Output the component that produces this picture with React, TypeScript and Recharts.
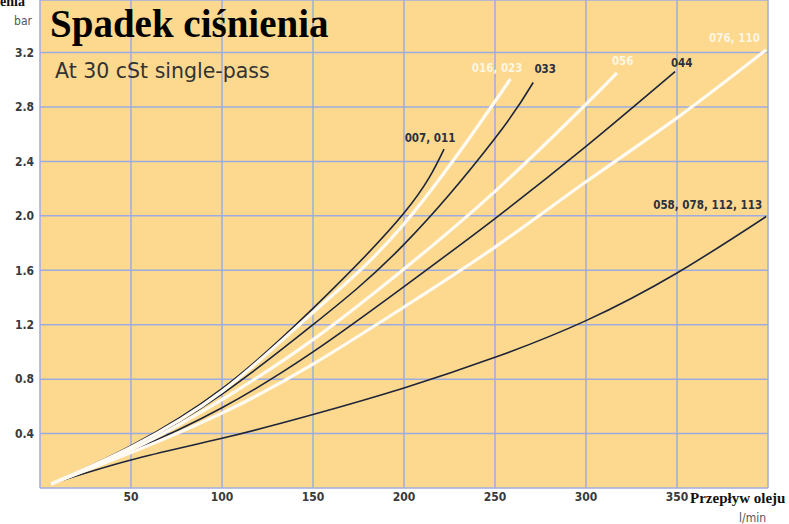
import React from 'react';
import { LineChart, Line, XAxis, YAxis, CartesianGrid } from 'recharts';

// ---- Data (flow l/min, pressure drop bar) ----
const flowTicks = [50, 100, 150, 200, 250, 300, 350];
const pressureTicks = [0.4, 0.8, 1.2, 1.6, 2.0, 2.4, 2.8, 3.2];

const q007 = [6, 50, 100, 150, 200, 222];
const p007 = [0.03, 0.31, 0.73, 1.32, 2.02, 2.49];

const q016 = [6, 50, 100, 150, 200, 250, 257];
const p016 = [0.03, 0.3, 0.71, 1.29, 1.94, 2.84, 2.98];

const q033 = [6, 50, 100, 150, 200, 250, 271];
const p033 = [0.03, 0.29, 0.69, 1.2, 1.79, 2.57, 2.98];

const q056 = [6, 50, 100, 150, 200, 250, 300, 317];
const p056 = [0.03, 0.28, 0.65, 1.09, 1.61, 2.18, 2.82, 3.05];

const q044 = [6, 50, 100, 150, 200, 250, 300, 349];
const p044 = [0.03, 0.27, 0.59, 1.0, 1.48, 1.98, 2.51, 3.06];

const q076 = [6, 50, 100, 150, 200, 250, 300, 350, 399];
const p076 = [0.03, 0.26, 0.55, 0.91, 1.33, 1.77, 2.25, 2.72, 3.22];

const q058 = [6, 50, 100, 150, 200, 250, 300, 350, 399];
const p058 = [0.03, 0.206, 0.365, 0.54, 0.735, 0.96, 1.23, 1.58, 1.995];

const seriesNames = ['058, 078, 112, 113', '044', '033', '007, 011', '076, 110', '056', '016, 023'];

const toData = (q: number[], p: number[]) => q.map((v, i) => ({ q: v, p: p[i] }));

// ---- Styles ----
const DARK = '#1e2538';
const WHITE = '#fffbf2';
const BG = '#fcd98f';
const GRID = '#9eabe0';
const TXT = '#3a3a3a';
const CONDENSED = '"DejaVu Sans Condensed", "DejaVu Sans", sans-serif';

const series = [
  { name: seriesNames[0], data: toData(q058, p058), color: DARK, w: 1.6, dx: -58.5, dy: -11.3, lc: '#2b3040' },
  { name: seriesNames[1], data: toData(q044, p044), color: DARK, w: 1.6, dx: 6.5, dy: -8.7, lc: '#2b3040' },
  { name: seriesNames[2], data: toData(q033, p033), color: DARK, w: 1.6, dx: 12, dy: -13.4, lc: '#2b3040' },
  { name: seriesNames[3], data: toData(q007, p007), color: DARK, w: 1.6, dx: -14, dy: -11.5, lc: '#2b3040' },
  { name: seriesNames[4], data: toData(q076, p076), color: WHITE, w: 3.2, dx: -31.7, dy: -11.7, lc: '#fff6e4' },
  { name: seriesNames[5], data: toData(q056, p056), color: WHITE, w: 3.2, dx: 5.8, dy: -12.3, lc: '#fff6e4' },
  { name: seriesNames[6], data: toData(q016, p016), color: WHITE, w: 3.2, dx: -10.6, dy: -14.4, lc: '#fff6e4' },
];

const makeLabel = (s: typeof series[number]) => (props: any) => {
  const last = s.data.length - 1;
  if (props.index !== last) return <g key={`l-${props.index}`} />;
  return (
    <text
      key={`l-${props.index}`}
      x={props.x + s.dx}
      y={props.y + s.dy}
      textAnchor="middle"
      dominantBaseline="central"
      fill={s.lc}
      fontFamily={CONDENSED}
      fontWeight="bold"
      fontSize={11.5}
    >
      {s.name}
    </text>
  );
};

export default function App() {
  return (
    <div style={{ position: 'absolute', left: 0, top: 0, width: 789, height: 524, background: '#fff' }}>
      <LineChart width={789} height={524} margin={{ top: 0, right: 21, left: 0, bottom: 0 }}>
        <CartesianGrid fill={BG} stroke={GRID} strokeWidth={1.5} />
        <XAxis
          type="number"
          dataKey="q"
          domain={[0, 400]}
          allowDataOverflow
          ticks={flowTicks}
          height={36}
          tickLine={false}
          axisLine={false}
          tickSize={0}
          tickMargin={4}
          tick={{ fill: TXT, fontFamily: CONDENSED, fontWeight: 'bold', fontSize: 12 }}
        />
        <YAxis
          type="number"
          dataKey="p"
          domain={[0, 3.586]}
          allowDataOverflow
          ticks={pressureTicks}
          width={40}
          tickLine={false}
          axisLine={false}
          tickSize={0}
          tickMargin={6}
          tickFormatter={(v: number) => v.toFixed(1)}
          tick={{ fill: TXT, fontFamily: CONDENSED, fontWeight: 'bold', fontSize: 12 }}
        />
        {series.map((s) => (
          <Line
            key={s.name}
            data={s.data}
            dataKey="p"
            type="natural"
            stroke={s.color}
            strokeWidth={s.w}
            dot={false}
            activeDot={false}
            isAnimationActive={false}
            label={makeLabel(s)}
          />
        ))}
      </LineChart>
      <svg
        width={789}
        height={524}
        style={{ position: 'absolute', left: 0, top: 0, pointerEvents: 'none' }}
      >
        <text x={25} y={6} textAnchor="end" fontFamily='"Liberation Serif", serif' fontWeight="bold" fontSize={14} fill="#111">
          ciśnienia
        </text>
        <text x={32} y={25} textAnchor="end" fontFamily={CONDENSED} fontSize={12} fill="#555">
          bar
        </text>
        <text x={50} y={37} fontFamily='"Liberation Serif", serif' fontWeight="bold" fontSize={39} fill="#000">
          Spadek ciśnienia
        </text>
        <text x={55} y={78} fontFamily='"DejaVu Sans", sans-serif' fontSize={20.5} fill="#333">
          At 30 cSt single-pass
        </text>
        <text x={690} y={503} fontFamily='"Liberation Serif", serif' fontWeight="bold" fontSize={15} fill="#111">
          Przepływ oleju
        </text>
        <text x={766} y={522} textAnchor="end" fontFamily={CONDENSED} fontSize={12} fill="#555">
          l/min
        </text>
      </svg>
    </div>
  );
}
